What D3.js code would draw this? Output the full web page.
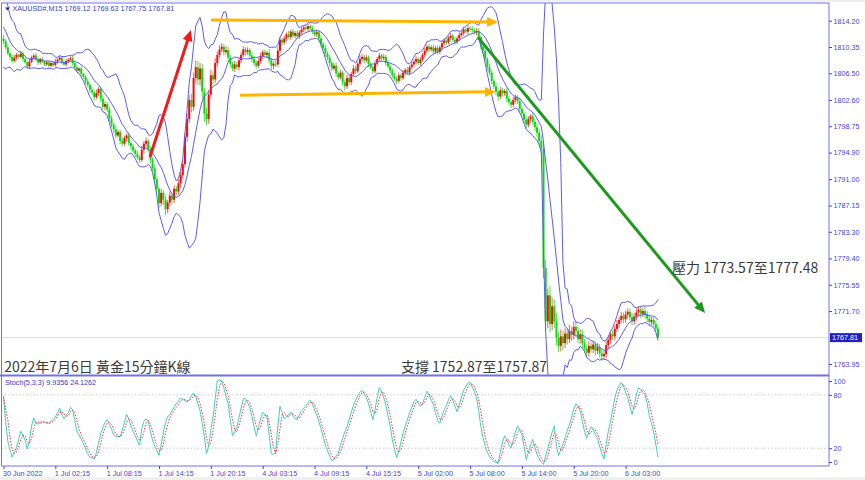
<!DOCTYPE html>
<html><head><meta charset="utf-8">
<script src="https://cdn.jsdelivr.net/npm/d3@7"></script>
<style>
html,body{margin:0;padding:0;background:#f0f0f0;}
svg{display:block;}
</style></head><body>
<svg id="c" width="865" height="480"></svg>
<script>
// ---------- DATA (XAUUSD M15) ----------
// closes of the bars just left of the visible window (only feed the band warm-up)
const priorCloses = [1816.2,1817.4,1815.6,1814.0,1812.1,1813.0,1811.4,1810.0,1811.8];
const firstOpen = 1811.6;
const closes = [1811.2,1810.3,1809.4,1808.9,1808.3,1808.8,1809.2,1808.9,1809.4,1808.6,
1808.1,1807.5,1808.2,1808.8,1809.1,1808.5,1808.1,1808.6,1808.2,1807.8,
1808.1,1807.6,1808.0,1807.7,1808.2,1808.5,1808.8,1808.1,1807.8,1808.3,
1808.5,1808.7,1808.0,1807.4,1806.9,1807.2,1806.4,1806.0,1805.3,1804.8,
1804.1,1803.7,1803.0,1803.6,1804.2,1802.8,1801.6,1802.0,1801.2,1799.9,
1799.0,1798.3,1797.4,1797.9,1796.6,1796.2,1797.0,1797.4,1796.3,1795.8,
1795.2,1794.7,1794.2,1793.8,1795.3,1796.2,1796.6,1795.4,1793.9,1792.6,
1791.0,1789.6,1787.5,1789.0,1788.0,1786.6,1787.6,1788.6,1788.0,1789.6,
1789.2,1790.4,1791.6,1793.2,1797.2,1799.8,1802.6,1801.6,1805.8,1807.4,
1805.6,1807.2,1803.8,1800.6,1799.8,1803.4,1806.2,1805.6,1808.0,1809.2,
1810.0,1810.4,1809.6,1809.9,1808.8,1807.9,1807.2,1807.8,1807.4,1808.4,
1809.2,1810.0,1809.6,1809.9,1809.1,1808.6,1808.0,1807.6,1808.3,1809.0,
1809.6,1809.2,1809.5,1808.4,1807.6,1807.9,1807.8,1809.8,1811.4,1811.0,
1811.6,1812.2,1811.8,1812.6,1812.0,1812.4,1811.9,1812.5,1812.9,1813.2,
1813.0,1813.4,1813.1,1812.6,1812.2,1812.5,1811.6,1810.8,1810.2,1809.4,
1808.8,1808.0,1807.2,1807.6,1806.5,1805.9,1806.6,1805.2,1804.6,1805.8,
1805.2,1806.4,1807.2,1806.8,1807.9,1808.6,1808.9,1808.4,1808.8,1807.8,
1807.4,1806.8,1807.9,1808.6,1809.1,1808.7,1808.9,1808.0,1807.5,1806.9,
1806.2,1805.7,1805.4,1806.2,1805.8,1806.6,1807.0,1806.6,1807.4,1807.8,
1808.2,1808.6,1808.0,1808.5,1809.2,1809.8,1810.4,1810.0,1810.3,1809.7,
1810.2,1809.6,1810.3,1810.9,1811.3,1811.0,1811.7,1812.0,1811.4,1811.1,
1811.6,1812.1,1812.4,1812.9,1812.6,1813.1,1813.0,1812.8,1812.5,1812.7,
1811.8,1810.4,1809.8,1808.6,1807.4,1806.6,1805.4,1804.6,1803.8,1803.1,
1804.0,1803.6,1803.9,1802.8,1802.3,1801.9,1802.6,1803.0,1802.4,1801.3,
1800.6,1799.7,1799.0,1799.8,1800.2,1799.4,1798.6,1797.8,1796.6,1795.5,
1778.0,1770.2,1774.0,1769.8,1772.4,1770.2,1767.8,1766.6,1768.0,1767.0,
1768.4,1767.6,1768.8,1768.2,1769.4,1768.8,1767.6,1768.3,1767.0,1766.2,
1765.6,1766.6,1766.1,1766.8,1765.9,1766.4,1765.5,1765.1,1765.4,1766.7,
1767.5,1768.3,1768.0,1769.1,1769.8,1770.4,1771.0,1770.5,1771.2,1771.6,
1770.8,1770.2,1770.9,1771.5,1771.9,1771.3,1771.7,1771.2,1770.6,1770.1,
1770.4,1769.8,1769.12,1767.81];
// wick lengths above / below each candle body (USD)
const upperWicks = [.5,.3,.4,.2,.3,.4,.3,.2,.4,.3, .3,.2,.4,.3,.2,.4,.3,.2,.3,.2,
.3,.2,.3,.2,.4,.2,.3,.2,.3,.3, .2,.3,.4,.2,.3,.2,.3,.2,.3,.4,
.3,.4,.3,.5,.3,.4,.5,.4,.3,.5, .4,.3,.5,.4,.3,.5,.4,.3,.4,.3,
.4,.3,.5,.3,.6,.4,.5,.3,.4,.3, .5,.4,.3,.6,.4,.5,.4,.6,.3,.5,
.4,.6,.5,.7,.6,.8,.7,.9,.8,1.0, .9,.8,.7,.6,.9,.7,.8,.6,.7,.5,
.6,.5,.4,.6,.5,.4,.3,.5,.4,.3, .4,.5,.3,.4,.3,.5,.4,.3,.4,.5,
.3,.4,.3,.5,.4,.3,.5,.6,.4,.3, .4,.3,.5,.3,.4,.3,.4,.3,.4,.3,
.4,.3,.3,.4,.3,.4,.3,.4,.3,.4, .3,.4,.3,.4,.5,.3,.4,.3,.4,.5,
.4,.3,.5,.4,.3,.5,.4,.3,.4,.3, .4,.3,.5,.3,.4,.3,.4,.3,.4,.3,
.3,.4,.3,.4,.3,.4,.3,.4,.3,.4, .3,.4,.3,.4,.3,.4,.3,.4,.3,.4,
.3,.4,.3,.4,.3,.4,.3,.4,.3,.4, .3,.4,.3,.4,.3,.4,.3,.4,.3,.4,
.4,.3,.5,.4,.3,.5,.4,.3,.5,.4, .5,.4,.3,.5,.4,.3,.5,.4,.3,.5,
.4,.3,.5,.4,.3,.5,.4,.6,.5,.8, 1.0,1.2,1.0,1.4,1.2,1.0,1.2,.9,1.0,.8,
.8,.7,.9,.6,.8,.7,.6,.8,.7,.6, .6,.7,.5,.6,.5,.6,.5,.6,.5,.6,
.6,.5,.6,.5,.6,.5,.6,.5,.6,.5, .5,.6,.5,.6,.5,.6,.5,.6,.5,.6,
.5,.4,.5,.51];
const lowerWicks = [.4,.3,.2,.4,.3,.2,.4,.3,.2,.3, .2,.3,.4,.2,.3,.2,.4,.3,.2,.3,
.2,.3,.2,.3,.2,.3,.2,.3,.2,.3, .3,.2,.3,.4,.2,.3,.4,.3,.4,.3,
.5,.4,.5,.3,.4,.5,.4,.5,.4,.5, .4,.5,.4,.3,.5,.4,.3,.5,.4,.5,
.4,.5,.3,.4,.3,.5,.4,.5,.6,.5, .6,.5,.7,.5,.8,.9,.6,.5,.7,.5,
.6,.5,.7,.6,.5,.7,.6,.8,.6,.7, .8,.9,1.0,1.2,.9,.7,.6,.8,.5,.6,
.5,.4,.5,.4,.6,.5,.4,.5,.4,.5, .4,.3,.5,.4,.3,.5,.4,.5,.3,.4,
.4,.3,.5,.4,.6,.5,.4,.3,.4,.5, .3,.4,.3,.4,.3,.4,.3,.4,.3,.4,
.3,.4,.3,.4,.3,.4,.5,.4,.3,.5, .4,.5,.4,.3,.5,.4,.3,.5,.6,.4,
.5,.4,.3,.4,.3,.4,.3,.4,.3,.4, .3,.4,.3,.4,.3,.4,.3,.4,.3,.4,
.4,.3,.5,.3,.4,.3,.4,.3,.4,.3, .3,.4,.3,.4,.3,.4,.3,.4,.3,.4,
.3,.4,.3,.4,.3,.4,.3,.4,.3,.4, .3,.4,.3,.4,.3,.4,.3,.4,.3,.4,
.3,.4,.5,.4,.5,.4,.5,.4,.5,.6, .4,.5,.4,.5,.4,.5,.4,.5,.4,.5,
.4,.5,.6,.4,.5,.4,.5,.6,.7,.9, 1.5,1.4,1.0,1.2,.9,1.0,1.1,.9,.8,1.0,
.7,.8,.6,.9,.7,.8,.6,.7,.8,.6, .7,.6,.5,.6,.7,.5,.6,.7,.5,.6,
.5,.6,.5,.6,.5,.6,.5,.6,.5,.6, .5,.6,.5,.6,.5,.6,.5,.6,.5,.6,
.5,.4,.3,.06];
// Stochastic main line (%K, slowed)
const stochMain = [78,50,28,18,10,15,21,30,39,34,
29,19,28,45,54,48,47,49,50,49,
48,48,50,52,55,60,65,58,53,57,
60,66,63,51,39,35,30,25,19,14,
10,9,8,15,26,36,43,49,52,47,
41,35,33,33,33,40,49,58,53,45,
39,34,28,23,42,50,53,50,39,29,
22,17,12,24,37,49,55,58,62,66,
70,73,76,75,73,72,75,79,82,78,
70,62,48,33,14,22,41,55,75,96,
97,95,88,78,70,52,34,38,43,54,
65,75,76,71,66,56,44,34,43,53,
60,58,55,35,14,13,15,45,67,60,
53,55,58,61,57,53,52,58,62,65,
68,71,74,70,63,57,50,42,33,24,
17,11,6,8,11,14,23,31,38,44,
52,60,68,74,79,83,85,81,77,70,
61,52,63,77,88,84,77,69,57,45,
30,19,9,17,27,37,45,52,60,66,
72,75,71,67,70,77,84,80,74,69,
60,51,48,56,63,68,74,79,74,67,
61,69,77,85,89,93,94,89,84,77,
62,44,32,22,15,11,8,5,4,3,
15,27,34,29,24,20,29,38,45,40,
35,22,7,15,24,30,21,13,8,4,
2,11,20,29,38,45,22,12,18,24,
32,40,46,55,64,70,67,62,50,39,
31,38,44,42,35,31,22,14,8,24,
39,50,63,76,85,90,94,90,83,77,
67,58,68,80,88,86,83,80,70,57,
48,38,24.4,9.9356];

const bbPeriod = 10, bbDev = 2.5;
const timeTickBars = [0,24,48,72,96,120,144,168,192,216,240,264,288];
const timeLabels = ["30 Jun 2022","1 Jul 02:15","1 Jul 08:15","1 Jul 14:15","1 Jul 20:15",
  "4 Jul 03:15","4 Jul 09:15","4 Jul 15:15","5 Jul 02:00","5 Jul 08:00","5 Jul 14:00","5 Jul 20:00","6 Jul 03:00"];
const priceTicks = [1814.20,1810.35,1806.50,1802.60,1798.75,1794.90,1791.00,1787.15,1783.30,1779.40,1775.55,1771.70,1763.95];
const stochLevels = [80,20];
const stochTickLabels = ["100","80","20","0"];
const stochTickVals = [95.5,80,20,4.5];
const lastPrice = 1767.81;
const headerText = "XAUUSD#,M15  1769.12 1769.63 1767.75 1767.81";
const stochText = "Stoch(5,3,3) 9.9356 24.1262";
const annotTexts = [
  {t:"2022年7月6日 黃金15分鐘K線", bar:0.3, price:1762.8},
  {t:"支撐 1752.87至1757.87", bar:184.0, price:1762.8},
  {t:"壓力 1773.57至1777.48", bar:309.5, price:1777.3}
];
const arrows = [
  {from:[67.8,1794.25], to:[86.8,1812.84], color:"#ee1c1c"},
  {from:[96.1,1814.3], to:[229.0,1814.0], color:"#ffb400"},
  {from:[109.5,1803.3], to:[228.0,1803.8], color:"#ffb400"},
  {from:[219.6,1811.8], to:[324.8,1771.4], color:"#1d9a1d"}
];

// ---------- LAYOUT ----------
const L=1.5, R=829, T=3, MB=375, ST=377, SB=466;
const n = closes.length;
const opens = closes.map((c,i)=> i===0 ? firstOpen : closes[i-1]);
const highs = closes.map((c,i)=> Math.max(opens[i],c) + upperWicks[i]);
const lows  = closes.map((c,i)=> Math.min(opens[i],c) - lowerWicks[i]);

const x = d3.scaleLinear().domain([0, 303]).range([3.5, 3.5 + 303*2.16]);
const y = d3.scaleLinear().domain([1762.34, 1816.79]).range([MB, T]);
const ys = d3.scaleLinear().domain([0, 100]).range([SB, ST]);

const svg = d3.select("#c");
const AX = "#4444d6", FRAME = "#7272e6";
const axFont = "'Liberation Sans', Arial, sans-serif";

svg.append("rect").attr("x",0).attr("y",2).attr("width",865).attr("height",475).attr("fill","#fff");

const defs = svg.append("defs");
defs.append("clipPath").attr("id","cm").append("rect").attr("x",L).attr("y",T).attr("width",R-L).attr("height",MB-T);
defs.append("clipPath").attr("id","cs").append("rect").attr("x",L).attr("y",ST).attr("width",R-L).attr("height",SB-ST);

// ---------- Bollinger bands from the closes ----------
const allC = priorCloses.concat(closes), off = priorCloses.length;
const bbUp=[], bbMid=[], bbLo=[];
for (let i=0;i<n;i++){
  const j=i+off;
  const w = allC.slice(Math.max(0,j-bbPeriod+1), j+1);
  const m = d3.mean(w);
  const sd = Math.sqrt(d3.mean(w, v=>(v-m)*(v-m)));
  bbMid.push(m); bbUp.push(m+bbDev*sd); bbLo.push(m-bbDev*sd);
}
const stochSig = stochMain.map((v,i)=> d3.mean(stochMain.slice(Math.max(0,i-2), i+1)));

// ---------- main panel ----------
const gm = svg.append("g").attr("clip-path","url(#cm)");
gm.append("line").attr("x1",L).attr("x2",R).attr("y1",y(lastPrice)).attr("y2",y(lastPrice))
  .attr("stroke","#dcdcdc").attr("stroke-width",1);

const cg = gm.append("g");
const idx = d3.range(n);
cg.selectAll("line.w").data(idx).join("line")
  .attr("x1",i=>x(i)).attr("x2",i=>x(i))
  .attr("y1",i=>y(highs[i])).attr("y2",i=>y(lows[i]))
  .attr("stroke",i=> closes[i]>=opens[i] ? "#ff5a5a" : "#4be04b").attr("stroke-width",1);
cg.selectAll("rect.b").data(idx).join("rect")
  .attr("x",i=>x(i)-1).attr("width",2)
  .attr("y",i=>y(Math.max(opens[i],closes[i])))
  .attr("height",i=>Math.max(1, Math.abs(y(opens[i])-y(closes[i]))))
  .attr("fill",i=> closes[i]>=opens[i] ? "#f20c0c" : "#0cd80c");

const bl = arr => d3.line().x((d,i)=>x(i)).y(d=>y(d))(arr);
[bbUp,bbMid,bbLo].forEach(a=>{
  gm.append("path").attr("d",bl(a)).attr("fill","none").attr("stroke","#5c5cf2").attr("stroke-width",1);
});

arrows.forEach(a=>{
  const x1=x(a.from[0]), y1=y(a.from[1]), x2=x(a.to[0]), y2=y(a.to[1]);
  const ang=Math.atan2(y2-y1,x2-x1), HL=11, HW=5;
  const bx=x2-HL*Math.cos(ang), by=y2-HL*Math.sin(ang);
  gm.append("line").attr("x1",x1).attr("y1",y1).attr("x2",bx+2*Math.cos(ang)).attr("y2",by+2*Math.sin(ang))
    .attr("stroke",a.color).attr("stroke-width",3);
  gm.append("path").attr("d",`M${x2},${y2}L${bx-HW*Math.sin(ang)},${by+HW*Math.cos(ang)}L${bx+HW*Math.sin(ang)},${by-HW*Math.cos(ang)}Z`)
    .attr("fill",a.color);
});

annotTexts.forEach(a=>{
  svg.append("text").attr("x",x(a.bar)).attr("y",y(a.price)).text(a.t)
    .attr("font-family","'Noto Sans CJK TC','Noto Sans CJK SC',sans-serif").attr("font-size",14)
    .attr("fill","#3a3a3a");
});

svg.append("path").attr("d","M5,7.5L10,7.5L7.5,10.5Z").attr("fill","#2a2a9a");
svg.append("text").attr("x",12.5).attr("y",11).text(headerText)
  .attr("font-family",axFont).attr("font-size",7.2).attr("fill","#3a3ac8");

// ---------- stochastic panel ----------
const gs = svg.append("g").attr("clip-path","url(#cs)");
stochLevels.forEach(v=>{
  gs.append("line").attr("x1",L).attr("x2",R).attr("y1",ys(v)).attr("y2",ys(v))
    .attr("stroke","#c8c8c8").attr("stroke-dasharray","1.5,2").attr("stroke-width",1);
});
const sl = arr => d3.line().x((d,i)=>x(i)).y(d=>ys(d))(arr);
gs.append("path").attr("d",sl(stochMain)).attr("fill","none").attr("stroke","#3fcfbf").attr("stroke-width",1);
gs.append("path").attr("d",sl(stochSig)).attr("fill","none").attr("stroke","#ff3030").attr("stroke-width",1).attr("stroke-dasharray","1.5,1.5");
svg.append("text").attr("x",5).attr("y",384.5).text(stochText)
  .attr("font-family",axFont).attr("font-size",7.2).attr("fill","#3a3ac8");

// ---------- frames ----------
svg.append("line").attr("x1",L).attr("x2",R).attr("y1",T).attr("y2",T).attr("stroke",FRAME);
svg.append("line").attr("x1",L).attr("x2",L).attr("y1",T).attr("y2",SB).attr("stroke",FRAME);
svg.append("line").attr("x1",R).attr("x2",R).attr("y1",T).attr("y2",SB).attr("stroke",FRAME);
svg.append("line").attr("x1",0).attr("x2",R).attr("y1",MB+0.5).attr("y2",MB+0.5).attr("stroke",FRAME).attr("stroke-width",2);
svg.append("line").attr("x1",L).attr("x2",R).attr("y1",SB).attr("y2",SB).attr("stroke",FRAME);

const pa = svg.append("g").attr("transform",`translate(${R},0)`);
pa.call(d3.axisRight(y).tickValues(priceTicks).tickFormat(d3.format(".2f")).tickSize(3).tickPadding(1.5));
pa.select(".domain").remove();
pa.selectAll("line").attr("stroke",AX);
pa.selectAll("text").attr("font-family",axFont).attr("font-size",7.2).attr("fill",AX);
svg.append("rect").attr("x",R+1).attr("y",y(lastPrice)-4.5).attr("width",32).attr("height",9).attr("fill","#1f1fc4");
svg.append("text").attr("x",R+3).attr("y",y(lastPrice)+2.6).text(lastPrice.toFixed(2))
  .attr("font-family",axFont).attr("font-size",7.2).attr("fill","#fff");

const sa = svg.append("g").attr("transform",`translate(${R},0)`);
sa.call(d3.axisRight(ys).tickValues(stochTickVals).tickFormat((d,i)=>stochTickLabels[i]).tickSize(3).tickPadding(1.5));
sa.select(".domain").remove();
sa.selectAll("line").attr("stroke",AX);
sa.selectAll("text").attr("font-family",axFont).attr("font-size",7.2).attr("fill",AX);

const ta = svg.append("g").attr("transform",`translate(0,${SB})`);
ta.call(d3.axisBottom(x).tickValues(timeTickBars).tickFormat((d,i)=>timeLabels[i]).tickSize(3).tickPadding(2));
ta.select(".domain").remove();
ta.selectAll("line").attr("stroke",AX);
ta.selectAll("text").attr("font-family",axFont).attr("font-size",7.2).attr("fill",AX)
  .attr("text-anchor","start").attr("dx",-1);
</script>
</body></html>
